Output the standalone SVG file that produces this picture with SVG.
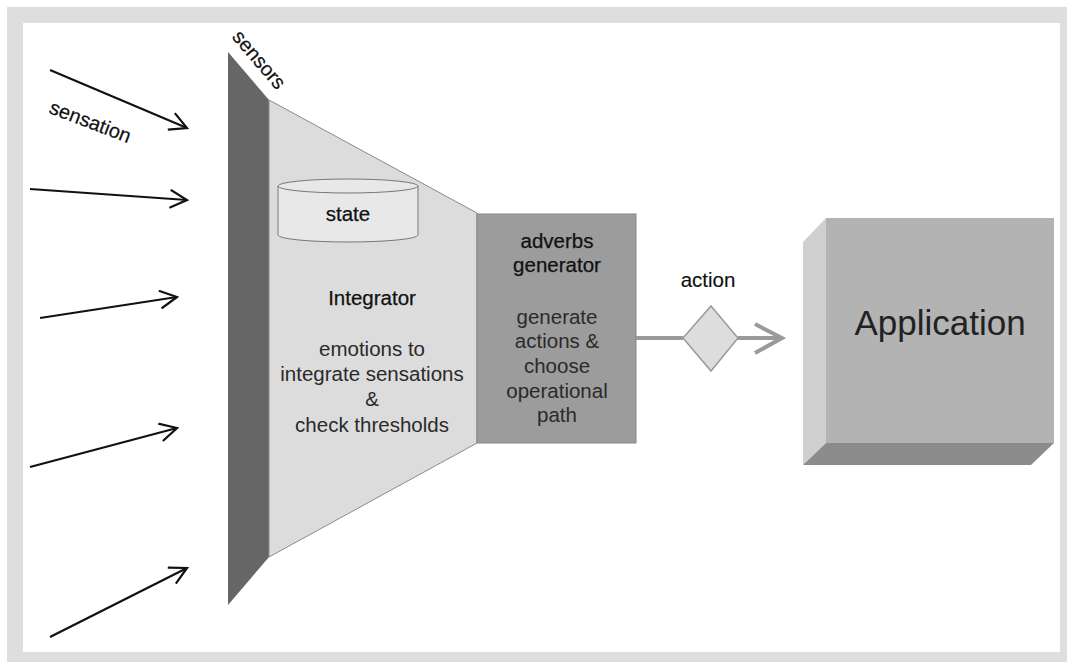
<svg xmlns="http://www.w3.org/2000/svg" width="1067" height="662" viewBox="0 0 1067 662">
  <style>
    text { font-family: "Liberation Sans", Arial, sans-serif; fill: #222; }
    .body { font-size: 20.5px; text-anchor: middle; fill: #2a2a2a; }
    .head { font-size: 20.5px; text-anchor: middle; fill: #111; stroke: #111; stroke-width: 0.25; }
    .side { font-size: 20px; text-anchor: middle; fill: #111; stroke: #111; stroke-width: 0.2; }
    .sense { stroke: #111; stroke-width: 2.2; fill: none; marker-end: url(#open); }
    .flow { stroke: #9a9a9a; stroke-width: 4; fill: none; }
  </style>
  <defs>
    <marker id="open" viewBox="0 0 20 20" refX="18" refY="10" markerWidth="20" markerHeight="20" markerUnits="userSpaceOnUse" orient="auto">
      <path d="M1,1 L18,10 L1,19" fill="none" stroke="#111" stroke-width="2.2"/>
    </marker>
  </defs>

  <!-- frame -->
  <rect x="7" y="7" width="1060" height="655" fill="#dedede"/>
  <rect x="23" y="23" width="1037" height="629" fill="#ffffff"/>

  <!-- sensors wall -->
  <g id="sensors">
    <polygon points="228,52 269,100 269,557 228,605" fill="#666666"/>
    <text class="side" x="0" y="0" transform="translate(254,64) rotate(49.5)">sensors</text>
  </g>

  <!-- integrator funnel -->
  <g id="integrator">
    <polygon points="269,100 477,213 477,443 269,557" fill="#dcdcdc" stroke="#8a8a8a" stroke-width="1"/>
    <text class="head" x="372" y="305">Integrator</text>
    <text class="body" x="372" y="356">emotions to</text>
    <text class="body" x="372" y="381">integrate sensations</text>
    <text class="body" x="372" y="406">&amp;</text>
    <text class="body" x="372" y="432">check thresholds</text>
  </g>

  <!-- state store -->
  <g id="state">
    <path d="M278,186 L278,235 A70,7 0 0 0 418,235 L418,186" fill="#e8e8e8" stroke="#777" stroke-width="1"/>
    <ellipse cx="348" cy="186" rx="70" ry="7" fill="#e8e8e8" stroke="#777" stroke-width="1"/>
    <text class="head" x="348" y="221">state</text>
  </g>

  <!-- adverbs generator -->
  <g id="adverbs">
    <rect x="477" y="214" width="159" height="229" fill="#9c9c9c" stroke="#888" stroke-width="1"/>
    <text class="head" x="557" y="248">adverbs</text>
    <text class="head" x="557" y="272">generator</text>
    <text class="body" x="557" y="324">generate</text>
    <text class="body" x="557" y="348">actions &amp;</text>
    <text class="body" x="557" y="373">choose</text>
    <text class="body" x="557" y="398">operational</text>
    <text class="body" x="557" y="422">path</text>
  </g>

  <!-- action decision -->
  <g id="action">
    <polygon points="711,306 738,338 711,371 683,338" fill="#dddddd" stroke="#9a9a9a" stroke-width="1.5"/>
    <text class="head" x="708" y="287" style="stroke-width:0.15">action</text>
  </g>

  <!-- application block -->
  <g id="application">
    <polygon points="826,218 803,242 803,465 826,443" fill="#cfcfcf"/>
    <polygon points="803,465 826,443 1054,443 1031,465" fill="#8c8c8c"/>
    <rect x="826" y="218" width="228" height="225" fill="#b3b3b3"/>
    <text x="940" y="335" font-size="35" text-anchor="middle" fill="#111">Application</text>
  </g>

  <!-- connectors -->
  <g id="connectors">
    <line class="sense" x1="50" y1="70" x2="187" y2="128"/>
    <line class="sense" x1="30" y1="189" x2="187" y2="200"/>
    <line class="sense" x1="40" y1="318" x2="177" y2="297"/>
    <line class="sense" x1="30" y1="467" x2="177" y2="428"/>
    <line class="sense" x1="50" y1="637" x2="187" y2="568"/>
    <text class="side" x="0" y="0" transform="translate(88,128) rotate(21)">sensation</text>
    <line class="flow" x1="636" y1="338" x2="683" y2="338"/>
    <line class="flow" x1="738" y1="338" x2="782" y2="338"/>
    <path class="flow" d="M755,324 L782,338 L755,353" stroke-linejoin="miter"/>
  </g>
</svg>
